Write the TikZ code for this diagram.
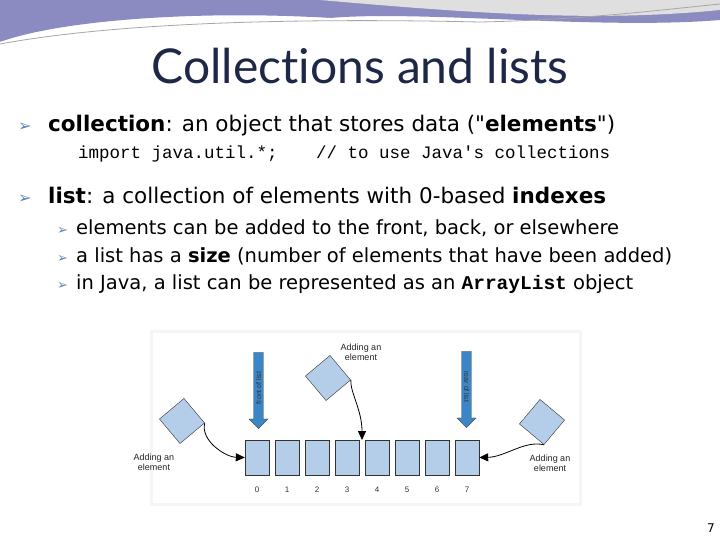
\documentclass[tikz,border=0pt]{standalone}
\usepackage{fontspec}
\setmainfont{DejaVu Sans}[Ligatures=TeXOff]
\newfontfamily\codefont{Liberation Mono}
\newfontfamily\dfont{Liberation Sans}
\newfontfamily\titlefont{Lato}[Ligatures={NoCommon,NoRare}]
\usetikzlibrary{arrows.meta,shapes.arrows}
\definecolor{boxblue}{HTML}{B4CDE8}
\definecolor{arrblue}{HTML}{3C86C8}
\definecolor{navy}{HTML}{1E2846}
\definecolor{bullc}{HTML}{5A88B8}
\tikzset{
  elem/.style={draw=black!80,fill=boxblue,minimum width=24pt,minimum height=35pt,inner sep=0pt},
  dia/.style={draw=black!80,fill=boxblue,minimum size=32pt,inner sep=0pt,rotate=40},
  dlabel/.style={font=\dfont\fontsize{9}{10}\selectfont,align=center,text=black!85},
  idx/.style={font=\dfont\fontsize{8}{9}\selectfont,text=black!80},
  curv/.style={-{Triangle[length=9pt,width=8pt]},thick},
  txt/.style={anchor=base west,inner sep=0pt,font=\fontsize{21.5}{22}\selectfont},
  stxt/.style={anchor=base west,inner sep=0pt,font=\fontsize{19.5}{20}\selectfont},
  bul/.style={anchor=base west,inner sep=0pt,text=bullc}
}
\begin{document}
\begin{tikzpicture}[x=1pt,y=-1pt]
\useasboundingbox (0,0) rectangle (720,540);
\fill[white] (0,0) rectangle (720,540);
% banner
\fill[blue!30!gray!70!white] (0,0) -- (720,0) -- (720,20) .. controls (600,30) and (420,10) .. (330,18) .. controls (200,10) and (60,20) .. (0,42) -- cycle;
\fill[white] (0,42) .. controls (80,20) and (200,14) .. (330,18) .. controls (250,22) and (100,26) .. (0,46) -- cycle;
\fill[gray!25] (320,0) -- (720,0) -- (720,10) .. controls (600,22) and (480,14) .. (320,0) -- cycle;
\draw[gray!70,line width=0.8pt] (0,44) .. controls (120,22) and (300,18) .. (480,22) .. controls (580,20) and (660,10) .. (720,4);
\node[font=\titlefont\fontsize{48}{50}\selectfont,text=navy] (title) at (360,66) {Collec\kern0pt tions and lists};
% bullets
\node[bul,font=\fontsize{16}{14}\selectfont] (b1) at (18,132) {➢};
\node[txt] (t1) at (48,132) {\textbf{collection}: an object that stores data ("\textbf{elements}")};
\node[anchor=base west,inner sep=0pt,font=\codefont\fontsize{17.5}{17}\selectfont] (code) at (78,159) {import java.util.*;\quad\ \ // to use Java's collections};
\node[bul,font=\fontsize{16}{14}\selectfont] (b2) at (18,204) {➢};
\node[txt] (t2) at (48,204) {\textbf{list}: a collection of elements with 0-based \textbf{indexes}};
\node[bul,font=\fontsize{13}{12}\selectfont] (s1) at (57,234) {➢};
\node[stxt] (u1) at (76,234) {elements can be added to the front, back, or elsewhere};
\node[bul,font=\fontsize{13}{12}\selectfont] (s2) at (57,262) {➢};
\node[stxt] (u2) at (76,262) {a list has a \textbf{size} (number of elements that have been added)};
\node[bul,font=\fontsize{13}{12}\selectfont] (s3) at (57,289) {➢};
\node[stxt] (u3) at (76,289) {in Java, a list can be represented as an {\codefont\bfseries ArrayList} object};
% diagram panel
\fill[gray!8] (150,330) rectangle (582,506);
\fill[white] (153,333) rectangle (579,503);
\foreach \i in {0,...,7} {
  \node[elem] (e\i) at ({257+30*\i},457.5) {};
  \node[idx] (n\i) at ({257+30*\i},490) {\i};
}
% vertical arrows
\node[single arrow,draw=black!70,fill=arrblue,shape border rotate=270,minimum width=19pt,single arrow head extend=2pt,minimum height=76pt,inner sep=2pt,
  label={[rotate=90,font=\dfont\fontsize{7}{8}\selectfont,text=black!80]center:front of list}] (fa) at (258.5,388) {};
\node[single arrow,draw=black!70,fill=arrblue,shape border rotate=270,minimum width=19pt,single arrow head extend=2pt,minimum height=76pt,inner sep=2pt,
  label={[rotate=-90,font=\dfont\fontsize{7}{8}\selectfont,text=black!80]center:rear of list}] (ra) at (466.5,387) {};
% diamonds
\node[dia] (dt) at (328,378) {};
\node[dia] (dl) at (182,421) {};
\node[dia,rotate=10] (dr) at (542,422) {};
\node[dlabel] (lt) at (361,352) {Adding an\\element};
\node[dlabel] (ll) at (154,462) {Adding an\\element};
\node[dlabel] (lr) at (550,463) {Adding an\\element};
\coordinate (gap) at (362,440);
\draw[curv] (dt.south east) .. controls (350,392) and (362,410) .. (gap);
\draw[curv] (dl.south east) .. controls (200,440) and (225,457) .. (e0.west);
\draw[curv] (dr.south west) .. controls (525,440) and (505,457) .. (e7.east);
\node[font=\fontsize{12}{12}\selectfont] (pg) at (711,528) {7};
\end{tikzpicture}
\end{document}
